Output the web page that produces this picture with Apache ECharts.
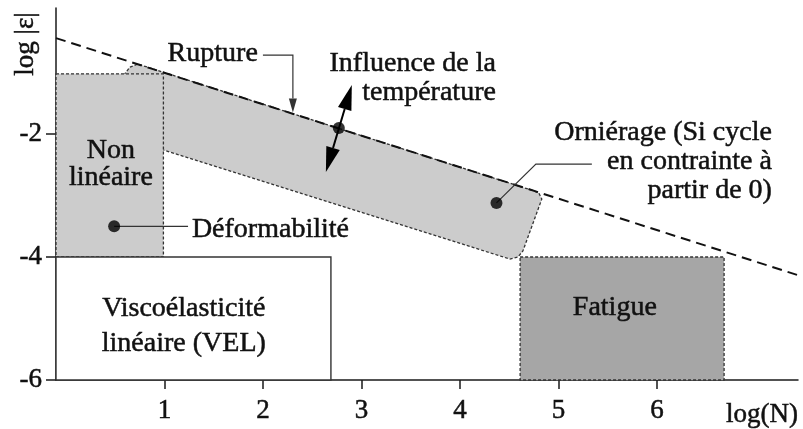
<!DOCTYPE html>
<html>
<head>
<meta charset="utf-8">
<script src="https://cdn.jsdelivr.net/npm/echarts@6/dist/echarts.min.js"></script>
<style>html,body{margin:0;padding:0;background:#fff}#c{width:803px;height:429px}</style>
</head>
<body>
<div id="c"></div>
<script>
// ---- data (values in axis units: x = log(N), y = log|ε|) ----
const xTicks = [1, 2, 3, 4, 5, 6];
const yTicks = [-6, -4, -2];
const ruptureLine = [[-0.1, -0.44], [7.42, -4.29]];
const nonLinearBox = [[-0.1, -4, 0.99, -1.02]];
const velBox = [[-0.1, -6, 2.69, -4]];
const fatigueBox = [[4.61, -6, 6.68, -4]];
const bandPoints = [
  [0.345, -1.935], [0.589, -1.041], [0.650, -0.911], [0.731, -0.862],
  [4.739, -2.919], [4.800, -2.959], [4.830, -3.057], [4.638, -3.902],
  [4.587, -4.0], [4.506, -4.033]
];
const dots = [[0.49, -3.5], [2.77, -1.9], [4.37, -3.12]];
const ruptureLeader = [[2.0, -0.715], [2.304, -0.715], [2.304, -1.65]];
const deformLeader = [[0.49, -3.5], [1.24, -3.5]];
const ornierageLeader = [[4.37, -3.12], [4.77, -2.488], [5.338, -2.488]];
const tempArrow = [[2.639, -2.618], [2.902, -1.203]];
const labelTexts = [
  'Rupture',
  'Influence de la\ntempérature',
  'Orniérage (Si cycle\nen contrainte à\npartir de 0)',
  'Déformabilité',
  'Non\nlinéaire',
  'Viscoélasticité\nlinéaire (VEL)',
  'Fatigue'
];
const labelAnchors = [
  [1.948, -0.691], [4.364, -1.089], [7.165, -2.447], [1.279, -3.553],
  [0.457, -2.488], [1.197, -5.122], [5.571, -4.821]
];
const xName = 'log(N)';
const yName = 'log |ε|';

// ---- styles ----
const FONT_FAMILY = '"Liberation Serif", "Times New Roman", serif';
const FONT = '28px ' + FONT_FAMILY;
const labelAlign = ['right', 'right', 'right', 'left', 'center', 'center', 'center'];
const labelLineHeight = [29, 29, 29, 29, 27, 35, 29];
const INK = '#111';

function rectSeries(data, style, z) {
  return {
    type: 'custom', z: z, data: data, encode: {x: [0, 2], y: [1, 3]},
    renderItem: function (params, api) {
      const p0 = api.coord([api.value(0), api.value(1)]);
      const p1 = api.coord([api.value(2), api.value(3)]);
      return {
        type: 'rect',
        shape: {x: Math.min(p0[0], p1[0]), y: Math.min(p0[1], p1[1]),
                width: Math.abs(p1[0] - p0[0]), height: Math.abs(p1[1] - p0[1])},
        style: style
      };
    }
  };
}

function head(tip, from, len, w) {
  const dx = tip[0] - from[0], dy = tip[1] - from[1];
  const L = Math.sqrt(dx * dx + dy * dy);
  const ux = dx / L, uy = dy / L;
  const bx = tip[0] - ux * len, by = tip[1] - uy * len;
  return {
    base: [bx, by],
    poly: [tip, [bx - uy * w / 2, by + ux * w / 2], [bx + uy * w / 2, by - ux * w / 2]]
  };
}

function pathSeries(points, opt, z) {
  return {
    type: 'custom', z: z, data: points,
    renderItem: function (params, api) {
      if (params.dataIndex !== 0) return null;
      const pts = points.map(function (p) { return api.coord(p); });
      const children = [];
      const linePts = pts.slice();
      if (opt.arrowEnd) {
        const h = head(pts[pts.length - 1], pts[pts.length - 2], opt.headLen, opt.headW);
        linePts[linePts.length - 1] = h.base;
        children.push({type: 'polygon', shape: {points: h.poly}, style: {fill: opt.color}});
      }
      if (opt.arrowStart) {
        const h = head(pts[0], pts[1], opt.headLen, opt.headW);
        linePts[0] = h.base;
        children.push({type: 'polygon', shape: {points: h.poly}, style: {fill: opt.color}});
      }
      children.unshift({type: 'polyline', shape: {points: linePts},
        style: {stroke: opt.color, lineWidth: opt.width, fill: null}});
      return {type: 'group', children: children};
    }
  };
}

const axisText = {color: INK, fontSize: 27, fontFamily: FONT_FAMILY, textBorderColor: INK, textBorderWidth: 0.5};

const option = {
  animation: false,
  backgroundColor: '#fff',
  grid: {left: 56, right: 5, top: 8, bottom: 49, outerBoundsMode: 'none'},
  xAxis: {
    type: 'value', min: -0.1, max: 7.43,
    axisLine: {onZero: false, lineStyle: {color: '#1a1a1a', width: 1.5}},
    axisTick: {customValues: xTicks, length: 9, lineStyle: {color: '#1a1a1a', width: 1.5}},
    axisLabel: Object.assign({customValues: xTicks, margin: 17}, axisText),
    splitLine: {show: false},
    name: xName, nameLocation: 'end', nameGap: 0,
    nameTextStyle: Object.assign({align: 'right', verticalAlign: 'top', padding: [21, 0, 0, 0]}, axisText)
  },
  yAxis: {
    type: 'value', min: -6, max: 0.05,
    axisLine: {onZero: false, lineStyle: {color: '#1a1a1a', width: 1.5}},
    axisTick: {customValues: yTicks, length: 10, lineStyle: {color: '#1a1a1a', width: 1.5}},
    axisLabel: Object.assign({customValues: yTicks, margin: 14}, axisText),
    splitLine: {show: false}
  },
  graphic: [{
    type: 'text', x: 26, y: 44, rotation: Math.PI / 2,
    style: {text: yName, font: '27px ' + FONT_FAMILY, fill: INK, stroke: INK, lineWidth: 0.5,
            align: 'center', verticalAlign: 'middle'}
  }],
  series: [
    {
      type: 'custom', z: 1, data: bandPoints,
      renderItem: function (params, api) {
        if (params.dataIndex !== 0) return null;
        return {type: 'polygon', shape: {points: bandPoints.map(function (p) { return api.coord(p); })},
          style: {fill: '#cccccc', stroke: '#333', lineWidth: 1.3, lineDash: [3, 2]}};
      }
    },
    rectSeries(nonLinearBox, {fill: '#cccccc', stroke: '#333', lineWidth: 1.3, lineDash: [3, 2]}, 2),
    rectSeries(velBox, {fill: '#ffffff', stroke: '#333', lineWidth: 1.4}, 2),
    rectSeries(fatigueBox, {fill: '#a6a6a6', stroke: '#333', lineWidth: 1.3, lineDash: [3, 2]}, 2),
    {
      type: 'line', z: 3, data: ruptureLine, symbol: 'none', silent: true,
      lineStyle: {color: INK, width: 2, type: [10, 6]}
    },
    pathSeries(ruptureLeader, {color: '#333', width: 1.2, arrowEnd: true, headLen: 14, headW: 8}, 4),
    pathSeries(deformLeader, {color: '#333', width: 1.2}, 4),
    pathSeries(ornierageLeader, {color: '#333', width: 1.2}, 4),
    pathSeries(tempArrow, {color: '#000', width: 2, arrowEnd: true, arrowStart: true, headLen: 25, headW: 14}, 4),
    {
      type: 'scatter', z: 5, data: dots, symbol: 'circle', symbolSize: 12,
      itemStyle: {color: '#000'}
    },
    {
      type: 'custom', z: 6, data: labelAnchors,
      renderItem: function (params, api) {
        const i = params.dataIndex;
        const p = api.coord([api.value(0), api.value(1)]);
        return {type: 'text', x: p[0], y: p[1],
          style: {text: labelTexts[i], font: FONT, fill: INK, stroke: INK, lineWidth: 0.5,
                  align: labelAlign[i], verticalAlign: 'middle', lineHeight: labelLineHeight[i]}};
      }
    }
  ]
};
echarts.init(document.getElementById('c')).setOption(option);
</script>
</body>
</html>
